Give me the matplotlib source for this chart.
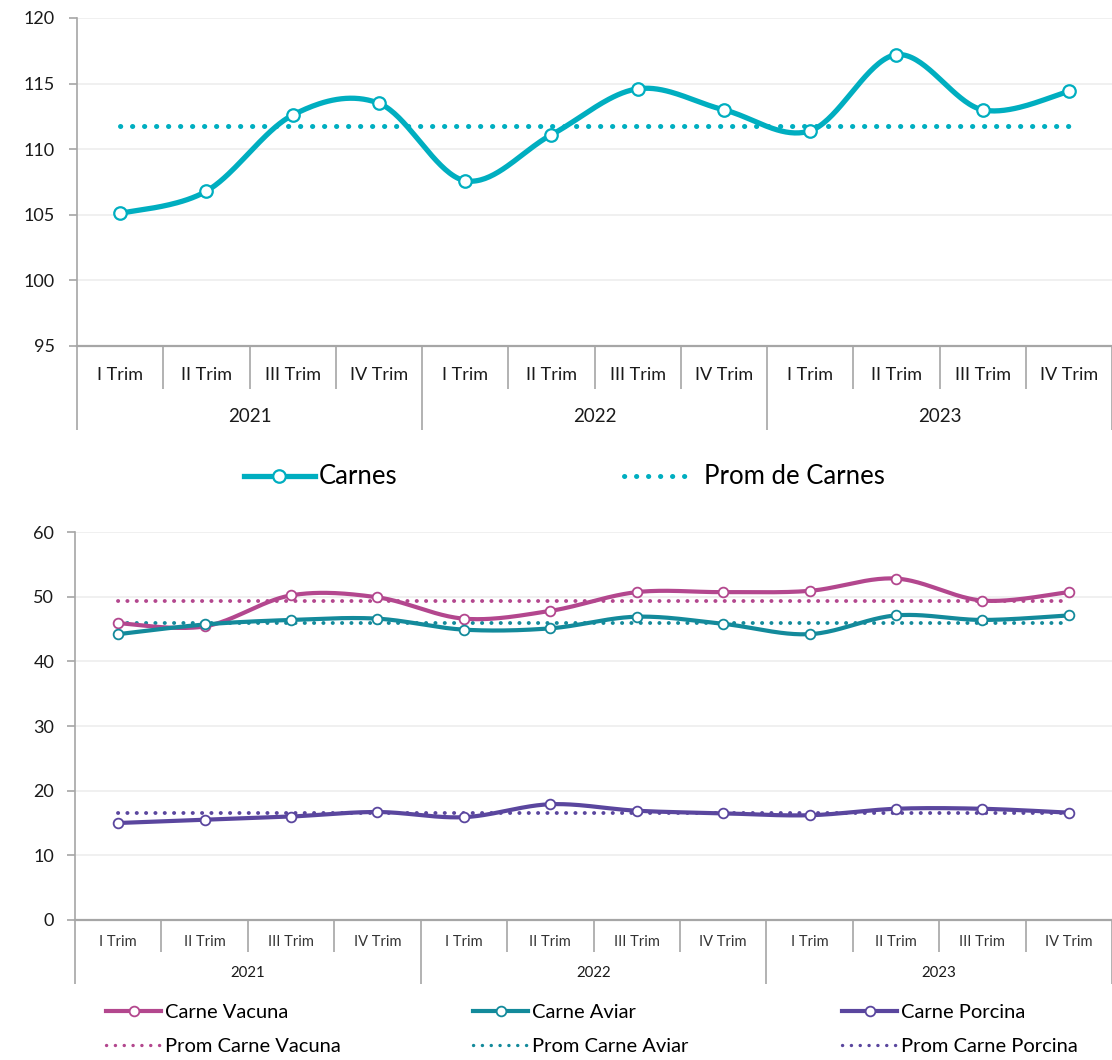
import numpy as np
import matplotlib
matplotlib.use("Agg")
import matplotlib.pyplot as plt
import matplotlib.transforms as mtransforms
from matplotlib.lines import Line2D

# ---------------- data ----------------
quarters = ["I Trim", "II Trim", "III Trim", "IV Trim"] * 3
years = ["2021", "2022", "2023"]

carnes = [105.1, 106.8, 112.6, 113.5, 107.6, 111.1, 114.6, 113.0, 111.4, 117.2, 113.0, 114.4]
prom_carnes = 111.8

vacuna = [45.9, 45.4, 50.2, 49.9, 46.6, 47.8, 50.7, 50.7, 50.9, 52.8, 49.4, 50.7]
aviar = [44.2, 45.7, 46.4, 46.6, 44.9, 45.1, 46.9, 45.8, 44.2, 47.1, 46.4, 47.1]
porcina = [15.0, 15.5, 16.0, 16.7, 15.9, 17.9, 16.9, 16.5, 16.2, 17.2, 17.2, 16.6]
prom_vacuna = 49.3
prom_aviar = 45.9
prom_porcina = 16.5

C_CARNES = "#00AEC0"
C_VAC = "#B3478E"
C_AVI = "#138A9B"
C_POR = "#5A469E"
GRID = "#EDEDED"
AXC = "#A6A6A6"

TEXTFONT = ["Lato", "DejaVu Sans"]


def smooth(xs, ys, n=40):
    pts = np.column_stack([xs, ys]).astype(float)
    out = []
    for i in range(len(pts) - 1):
        p0 = pts[i - 1] if i > 0 else pts[i]
        p1 = pts[i]
        p2 = pts[i + 1]
        p3 = pts[i + 2] if i + 2 < len(pts) else pts[i + 1]
        c1 = p1 + (p2 - p0) / 6
        c2 = p2 - (p3 - p1) / 6
        t = np.linspace(0, 1, n)[:, None]
        seg = (1 - t) ** 3 * p1 + 3 * (1 - t) ** 2 * t * c1 + 3 * (1 - t) * t ** 2 * c2 + t ** 3 * p2
        out.append(seg if i == 0 else seg[1:])
    s = np.vstack(out)
    return s[:, 0], s[:, 1]


W, H = 1112, 1060
fig = plt.figure(figsize=(W / 100, H / 100), dpi=100)

ax1 = fig.add_axes([77 / W, 1 - 346 / H, (W - 77) / W, 328 / H])
ax2 = fig.add_axes([75 / W, 1 - 920 / H, (W - 75) / W, 388 / H])

x = np.arange(len(quarters))


def style_axis(ax, ylo, yhi, step, cat_sep, year_sep, cat_y, year_y, cat_fs, year_fs, cat_color, pad):
    ax.set_xlim(-0.5, len(quarters) - 0.5)
    ax.set_ylim(ylo, yhi)
    ax.set_yticks(np.arange(ylo, yhi + 0.01, step))
    ax.yaxis.grid(True, color=GRID, linewidth=1.2)
    ax.set_axisbelow(True)
    for s in ["top", "right"]:
        ax.spines[s].set_visible(False)
    ax.spines["left"].set_color(AXC)
    ax.spines["bottom"].set_color(AXC)
    ax.spines["left"].set_linewidth(1.2)
    ax.spines["bottom"].set_linewidth(1.6)
    ax.tick_params(axis="y", length=6, width=1.2, color=AXC, labelsize=13, pad=pad,
                   labelcolor="#1a1a1a")
    for lbl in ax.get_yticklabels():
        lbl.set_family(TEXTFONT)
    ax.set_xticks([])
    trans = mtransforms.blended_transform_factory(ax.transData, ax.transAxes)
    nb = len(quarters)
    for b in range(nb + 1):
        bx = b - 0.5
        ylow = year_sep if b % 4 == 0 else cat_sep
        ax.plot([bx, bx], [0, ylow], transform=trans, color=AXC, lw=1.2,
                clip_on=False, solid_capstyle="butt")
    for i, q in enumerate(quarters):
        ax.text(i, cat_y, q, transform=trans, ha="center", va="center",
                fontsize=cat_fs, family=TEXTFONT, color=cat_color)
    for j, yname in enumerate(years):
        ax.text(4 * j + 1.5, year_y, yname, transform=trans, ha="center", va="center",
                fontsize=year_fs, family=TEXTFONT, color="#1a1a1a")


# ---------------- top chart ----------------
style_axis(ax1, 95, 120, 5, -43 / 328, -84 / 328, -29 / 328, -71 / 328, 13, 13.5, "#1a1a1a", 10)
sx, sy = smooth(x, carnes)
ax1.plot(sx, sy, color=C_CARNES, lw=3.8, solid_capstyle="round", zorder=3)
ax1.plot(x, carnes, ls="none", marker="o", ms=9, mfc="white", mec=C_CARNES, mew=1.6, zorder=4)
ax1.plot([x[0], x[-1]], [prom_carnes, prom_carnes], color=C_CARNES, lw=3.6,
         ls=(0, (0.05, 2.35)), dash_capstyle="round", zorder=2)

h1 = Line2D([], [], color=C_CARNES, lw=3.8, marker="o", ms=9, mfc="white", mec=C_CARNES, mew=1.6)
h2 = Line2D([], [], color=C_CARNES, lw=3.6, ls=(0, (0.05, 2.35)), dash_capstyle="round")
fig.legend([h1], ["Carnes"], loc="center left", bbox_to_anchor=(244 / W, 1 - 477 / H),
           frameon=False, prop={"family": TEXTFONT, "size": 18.5}, handlelength=2.75,
           handletextpad=0.15, borderaxespad=0, borderpad=0)
fig.legend([h2], ["Prom de Carnes"], loc="center left", bbox_to_anchor=(624 / W, 1 - 477 / H),
           frameon=False, prop={"family": TEXTFONT, "size": 18.5}, handlelength=2.6,
           handletextpad=0.5, borderaxespad=0, borderpad=0)

# ---------------- bottom chart ----------------
style_axis(ax2, 0, 60, 10, -32 / 388, -64 / 388, -22 / 388, -53 / 388, 10.5, 10.8, "#333333", 9)
for vals, prom, col in [(vacuna, prom_vacuna, C_VAC), (aviar, prom_aviar, C_AVI), (porcina, prom_porcina, C_POR)]:
    ax2.plot([x[0], x[-1]], [prom, prom], color=col, lw=2.8,
             ls=(0, (0.05, 2.35)), dash_capstyle="round", zorder=2)
for vals, prom, col in [(vacuna, prom_vacuna, C_VAC), (aviar, prom_aviar, C_AVI), (porcina, prom_porcina, C_POR)]:
    sx, sy = smooth(x, vals)
    ax2.plot(sx, sy, color=col, lw=3.0, solid_capstyle="round", zorder=3)
    ax2.plot(x, vals, ls="none", marker="o", ms=7, mfc="white", mec=col, mew=1.3, zorder=4)

names = ["Carne Vacuna", "Carne Aviar", "Carne Porcina"]
cols = [C_VAC, C_AVI, C_POR]
lefts = [106, 473, 842]
for nm, col, lx in zip(names, cols, lefts):
    ha = Line2D([], [], color=col, lw=3.0, marker="o", ms=7, mfc="white", mec=col, mew=1.3)
    hb = Line2D([], [], color=col, lw=2.4, ls=(0, (0.05, 2.6)), dash_capstyle="round")
    fig.legend([ha, hb], [nm, "Prom " + nm], loc="center left",
               bbox_to_anchor=(lx / W, 1 - 1029.5 / H), frameon=False,
               prop={"family": TEXTFONT, "size": 14.5}, handlelength=2.75,
               handletextpad=0.2, borderaxespad=0, borderpad=0, labelspacing=0.85)

fig.savefig("out.png", dpi=100, facecolor="white")
